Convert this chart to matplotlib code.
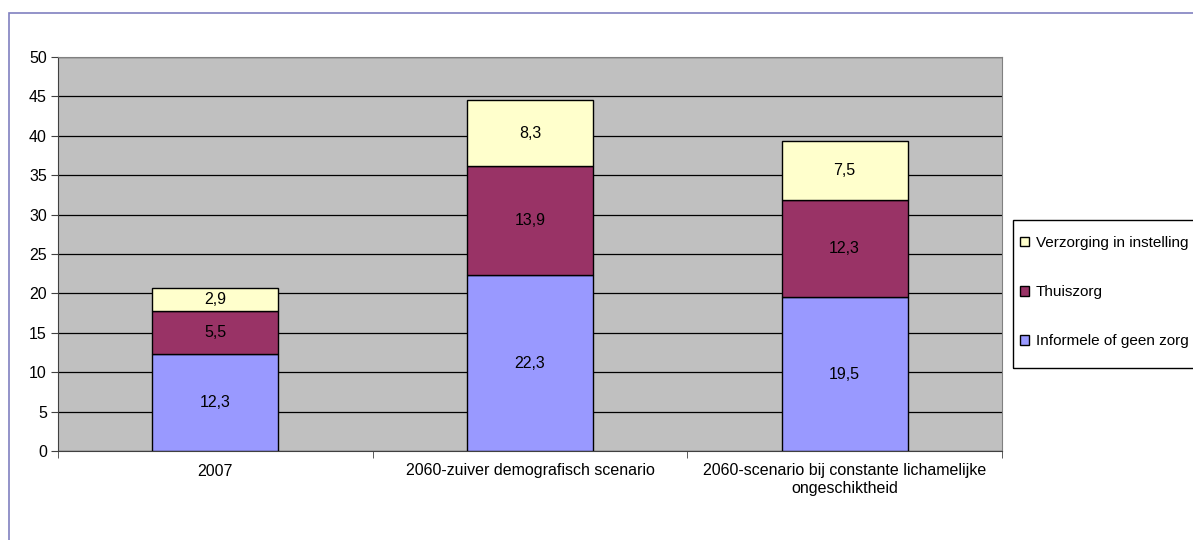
import matplotlib.pyplot as plt
from matplotlib.patches import Rectangle

plt.rcParams['font.family'] = ['Liberation Sans', 'DejaVu Sans']

# Zorgbehoefte per scenario
categories = ['2007',
              '2060-zuiver demografisch scenario',
              '2060-scenario bij constante lichamelijke\nongeschiktheid']
informeel = [12.3, 22.3, 19.5]
thuiszorg = [5.5, 13.9, 12.3]
instelling = [2.9, 8.3, 7.5]

series = [
    ('Informele of geen zorg', informeel, '#9999FF'),
    ('Thuiszorg', thuiszorg, '#993366'),
    ('Verzorging in instelling', instelling, '#FFFFCC'),
]

W, H = 1193, 540
fig = plt.figure(figsize=(W / 100, H / 100), dpi=100)
ax = fig.add_axes([58 / W, 1 - 451 / H, (1002 - 58) / W, (451 - 57) / H])
ax.set_facecolor('#C0C0C0')

x = range(len(categories))
bottom = [0.0] * len(categories)
handles = []
for name, vals, color in series:
    bars = ax.bar(x, vals, width=0.4, bottom=bottom, color=color,
                  edgecolor='black', linewidth=1.0, label=name, zorder=3)
    for b, v, base in zip(bars, vals, bottom):
        ax.text(b.get_x() + b.get_width() / 2, base + v / 2,
                f'{v:.1f}'.replace('.', ','), ha='center', va='center',
                fontsize=11.5, color='black', zorder=4)
    bottom = [a + b for a, b in zip(bottom, vals)]
    handles.append(bars)

ax.set_xlim(-0.5, 2.5)
ax.set_ylim(0, 50)
ax.set_yticks(range(0, 51, 5))
ax.yaxis.grid(True, color='black', linewidth=0.9, zorder=1)
ax.set_axisbelow(True)

ax.set_xticks([0, 1, 2])
ax.set_xticklabels(categories, fontsize=11.5)
ax.tick_params(axis='x', length=0, pad=9)
ax.set_xticks([-0.5, 0.5, 1.5, 2.5], minor=True)
ax.tick_params(axis='x', which='minor', length=5, color='#404040')
ax.tick_params(axis='y', length=5, labelsize=11.5, pad=3, color='#404040')

for side in ['left', 'bottom']:
    ax.spines[side].set_color('#404040')
for side in ['top', 'right']:
    ax.spines[side].set_color('#808080')

# legenda zonder eigen kader, het kader wordt apart getekend
leg = ax.legend(handles[::-1], [s[0] for s in series][::-1],
                loc='upper left', bbox_to_anchor=(1020 / W, 1 - 236 / H),
                bbox_transform=fig.transFigure, fontsize=11, frameon=False,
                handlelength=0.6, handleheight=0.6, handletextpad=0.45,
                labelspacing=2.3, borderpad=0, borderaxespad=0)
fig.patches.append(Rectangle((1013 / W, 1 - 368 / H), 0.3, 148 / H,
                             transform=fig.transFigure, fill=False,
                             edgecolor='black', linewidth=1.0))

# buitenrand van de grafiek
fig.patches.append(Rectangle((9 / W, -0.1), 1.2, 1 - 13 / H + 0.1,
                             transform=fig.transFigure, fill=False,
                             edgecolor='#8080C0', linewidth=1.2))

fig.savefig('out.png', dpi=100)
